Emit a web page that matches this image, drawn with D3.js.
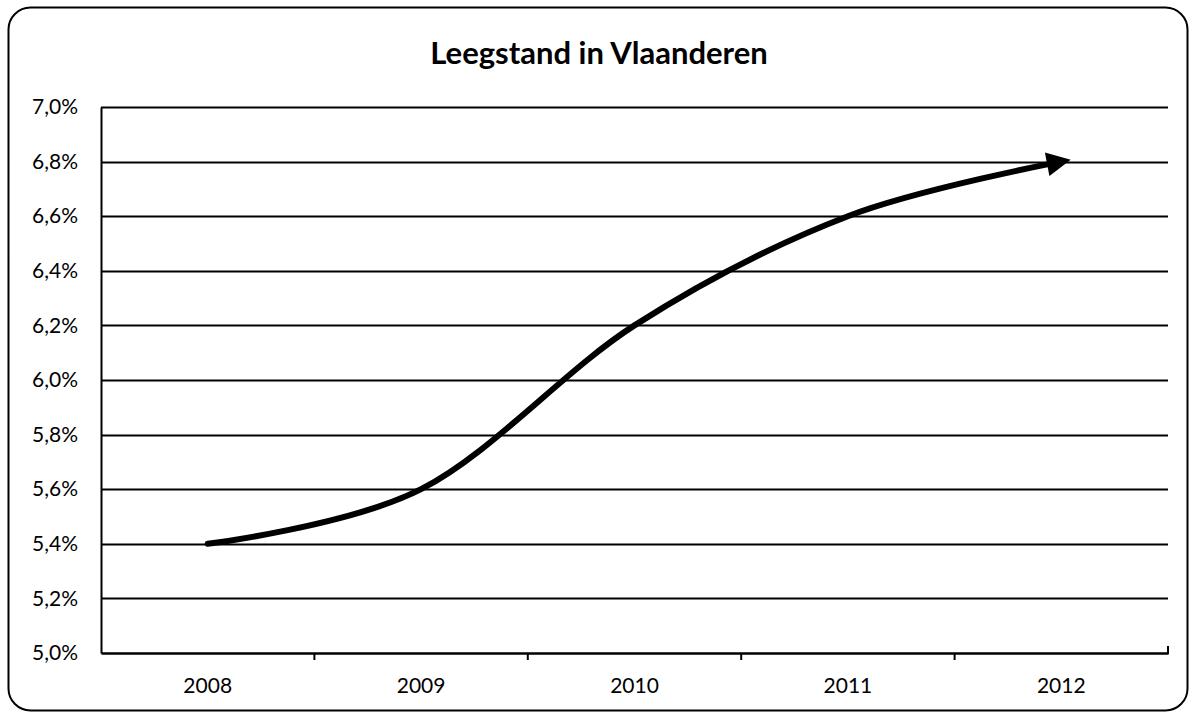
<!DOCTYPE html>
<html>
<head>
<meta charset="utf-8">
<script src="https://cdn.jsdelivr.net/npm/d3@7"></script>
<style>
  body { margin: 0; background: #fff; }
  svg text { font-family: Lato, "Open Sans", sans-serif; fill: #000; }
</style>
</head>
<body>
<div id="chart"></div>
<script>
var years = ["2008", "2009", "2010", "2011", "2012"];
var leegstand = [5.4, 5.6, 6.2, 6.6, 6.8];
var yTicks = [5.0, 5.2, 5.4, 5.6, 5.8, 6.0, 6.2, 6.4, 6.6, 6.8, 7.0];

var W = 1196, H = 718;
var margin = {top: 107, right: 28, bottom: 65, left: 101},
    width = W - margin.left - margin.right,
    height = H - margin.top - margin.bottom;

var svg = d3.select("#chart").append("svg")
    .attr("width", W)
    .attr("height", H);

// outer frame
svg.append("rect")
    .attr("x", 8.5).attr("y", 7.5)
    .attr("width", 1179).attr("height", 703)
    .attr("rx", 22).attr("ry", 22)
    .attr("fill", "none")
    .attr("stroke", "#000")
    .attr("stroke-width", 2);

svg.append("text")
    .attr("x", 599)
    .attr("y", 64)
    .attr("text-anchor", "middle")
    .style("font-size", "31px")
    .style("font-weight", "bold")
    .text("Leegstand in Vlaanderen");

var g = svg.append("g")
    .attr("transform", "translate(" + margin.left + "," + margin.top + ")");

var x = d3.scaleBand().domain(years).range([0, width]);
var y = d3.scaleLinear().domain([5.0, 7.0]).range([height, 0]);

// gridlines
g.selectAll(".grid")
    .data(yTicks.slice(1))
  .enter().append("line")
    .attr("x1", 0).attr("x2", width)
    .attr("y1", function(d) { return Math.round(y(d)) + 0.5; })
    .attr("y2", function(d) { return Math.round(y(d)) + 0.5; })
    .attr("stroke", "#000")
    .attr("stroke-width", 2);

// y axis
var yAxis = g.append("g")
    .call(d3.axisLeft(y).tickValues(yTicks).tickSize(0).tickPadding(23)
        .tickFormat(function(d) { return d3.format(".1f")(d).replace(".", ",") + "%"; }));
yAxis.select(".domain").attr("stroke-width", 2);
yAxis.selectAll("text").style("font-size", "21px");

// x axis
var xAxis = g.append("g")
    .attr("transform", "translate(0," + height + ")")
    .call(d3.axisBottom(x).tickSize(0).tickPadding(25));
xAxis.select(".domain").attr("stroke-width", 2.5);
xAxis.selectAll("text").style("font-size", "21px");

// category boundary ticks
g.selectAll(".xtick")
    .data(years.slice(1))
  .enter().append("line")
    .attr("x1", function(d) { return x(d); })
    .attr("x2", function(d) { return x(d); })
    .attr("y1", height).attr("y2", height + 7)
    .attr("stroke", "#000")
    .attr("stroke-width", 2);
g.append("line")
    .attr("x1", width).attr("x2", width)
    .attr("y1", height - 7).attr("y2", height + 1)
    .attr("stroke", "#000")
    .attr("stroke-width", 2);

// arrow head
svg.append("defs").append("marker")
    .attr("id", "arrow")
    .attr("viewBox", "0 0 10 10")
    .attr("refX", 6).attr("refY", 5)
    .attr("markerWidth", 5).attr("markerHeight", 4)
    .attr("orient", "auto")
    .attr("markerUnits", "strokeWidth")
  .append("path")
    .attr("d", "M0,0L10,5L0,10z")
    .attr("fill", "#000");

var line = d3.line()
    .x(function(d, i) { return x(years[i]) + x.bandwidth() / 2; })
    .y(function(d) { return y(d); })
    .curve(d3.curveCardinal.tension(0));

g.append("path")
    .datum(leegstand)
    .attr("d", line)
    .attr("fill", "none")
    .attr("stroke", "#000")
    .attr("stroke-width", 6)
    .attr("stroke-linecap", "round")
    .attr("marker-end", "url(#arrow)");
</script>
</body>
</html>
